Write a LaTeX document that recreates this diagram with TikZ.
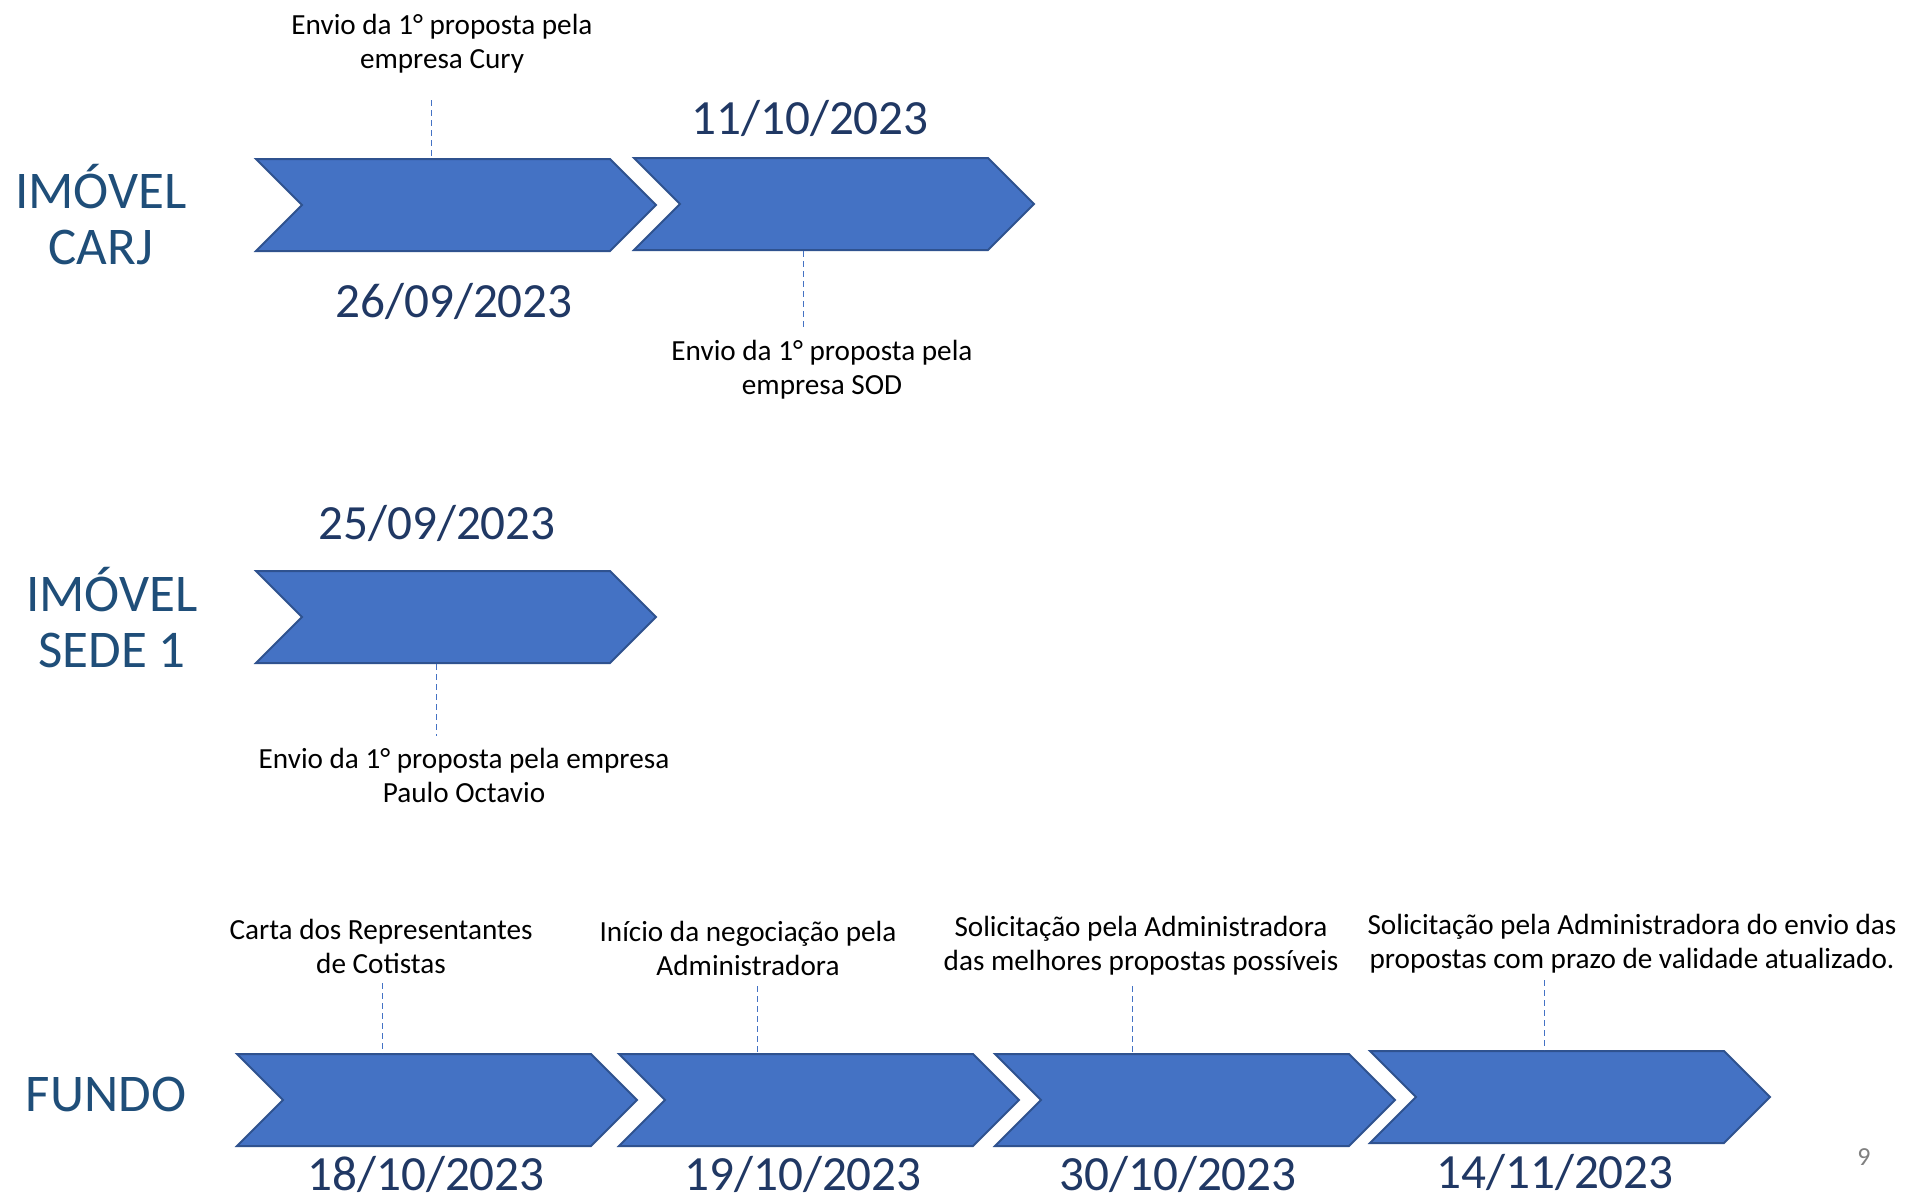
\documentclass[tikz,border=0pt]{standalone}
\usepackage{fontspec}
\setmainfont{Carlito}
\usetikzlibrary{shapes.symbols}
\definecolor{chevfill}{HTML}{4472C4}
\definecolor{chevline}{HTML}{2F528F}
\definecolor{rowblue}{HTML}{1F4E79}
\definecolor{datenavy}{HTML}{203864}
\tikzstyle{chev}=[signal,signal from=west,signal to=east,signal pointer angle=90,fill=chevfill,draw=chevline,line width=1pt,minimum width=200pt,minimum height=46pt,inner sep=0pt]
\tikzstyle{rowlabel}=[font=\fontsize{26.5}{28}\selectfont,text=rowblue,align=center]
\tikzstyle{datelabel}=[font=\fontsize{24.6}{29}\selectfont,text=datenavy]
\tikzstyle{notetext}=[font=\fontsize{14.6}{17}\selectfont,align=center]
\tikzstyle{tickline}=[draw=chevfill,line width=0.5pt,dash pattern=on 3pt off 2pt]

\begin{document}
\begin{tikzpicture}[x=0.5pt,y=-0.5pt]
    \useasboundingbox[fill=white] (0,0) rectangle (1908,1200);
    % imovel carj
    \node[rowlabel] (carj) at (101,215) {IMÓVEL\\CARJ};
    \node[chev] (c1) at (456,205) {};
    \node[chev] (c2) at (834,204) {};
    \node[datelabel] (d26) at (454,301) {26/09/2023};
    \node[datelabel] (d11) at (810,118) {11/10/2023};
    \node[notetext] (cury) at (442,44) {Envio da 1° proposta pela\\empresa Cury};
    \node[notetext] (sod) at (822,370) {Envio da 1° proposta pela\\empresa SOD};
    \coordinate (cury tick) at (431,100);
    \coordinate (sod tick) at (803,329);
    \draw[tickline] (cury tick) -- (cury tick |- c1.north);
    \draw[tickline] (sod tick |- c2.south) -- (sod tick);
    % imovel sede 1
    \node[rowlabel] (sede) at (112,618) {IMÓVEL\\SEDE 1};
    \node[chev] (s1) at (456,617) {};
    \node[datelabel] (d25) at (437,523) {25/09/2023};
    \node[notetext] (paulo) at (464,775) {Envio da 1° proposta pela empresa\\Paulo Octavio};
    \coordinate (paulo tick) at (436,736);
    \draw[tickline] (paulo tick |- s1.south) -- (paulo tick);
    % fundo
    \node[rowlabel] (fundo) at (106,1094) {FUNDO};
    \node[chev] (f1) at (437,1100) {};
    \node[chev] (f2) at (819,1100) {};
    \node[chev] (f3) at (1195,1100) {};
    \node[chev] (f4) at (1570,1097) {};
    \node[datelabel] (d18) at (426,1174) {18/10/2023};
    \node[datelabel] (d19) at (803,1174) {19/10/2023};
    \node[datelabel] (d30) at (1178,1174) {30/10/2023};
    \node[datelabel] (d14) at (1555,1172) {14/11/2023};
    \node[notetext] (carta) at (381,946) {Carta dos Representantes\\de Cotistas};
    \node[notetext] (inicio) at (748,948) {Início da negociação pela\\Administradora};
    \node[notetext] (solic) at (1141,946) {Solicitação pela Administradora\\das melhores propostas possíveis};
    \node[notetext] (envio) at (1632,944) {Solicitação pela Administradora do envio das\\propostas com prazo de validade atualizado.};
    \coordinate (carta tick) at (382,983);
    \coordinate (inicio tick) at (757,986);
    \coordinate (solic tick) at (1132,986);
    \coordinate (envio tick) at (1544,980);
    \draw[tickline] (carta tick) -- (carta tick |- f1.north);
    \draw[tickline] (inicio tick) -- (inicio tick |- f2.north);
    \draw[tickline] (solic tick) -- (solic tick |- f3.north);
    \draw[tickline] (envio tick) -- (envio tick |- f4.north);
    \node[font=\fontsize{13}{15}\selectfont,text=gray] (page) at (1864,1157) {9};
\end{tikzpicture}
\end{document}
